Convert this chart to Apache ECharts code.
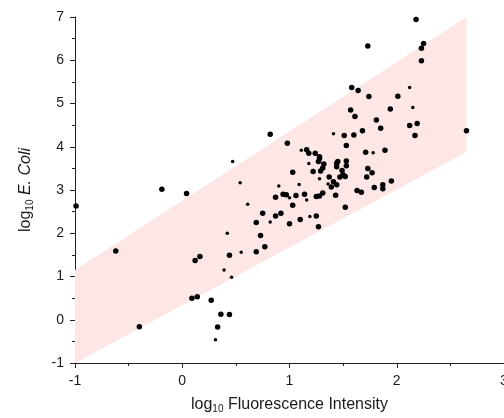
<!DOCTYPE html>
<html>
<head>
<meta charset="utf-8">
<script src="https://cdn.jsdelivr.net/npm/echarts@6/dist/echarts.min.js"></script>
<style>html,body{margin:0;padding:0;background:#fff;}#c{width:504px;height:418px;}</style>
</head>
<body>
<div id="c"></div>
<script>
// Axis ticks
var xTicks = [-1, 0, 1, 2, 3];
var yTicks = [-1, 0, 1, 2, 3, 4, 5, 6, 7];

// Prediction band (pink parallelogram): x positions with lower / upper bounds
var bandX = [-1, 2.65];
var bandLower = [-1.96, 3.88];
var bandUpper = [1.15, 7.0];

// Large markers [log10 fluorescence, log10 E. coli]
var bigPoints = [
  [-0.99, 2.63], [-0.62, 1.59], [-0.40, -0.16], [-0.19, 3.02], [0.04, 2.92],
  [0.82, 4.29], [0.98, 4.08], [0.44, 1.49], [0.165, 1.46], [0.12, 1.37],
  [0.69, 1.57], [0.77, 1.69], [0.73, 1.95], [0.69, 2.25], [0.75, 2.46],
  [0.87, 2.40], [0.92, 2.46], [1.00, 2.22], [1.10, 2.32], [1.25, 2.40],
  [1.27, 2.15], [0.87, 2.83], [0.94, 2.90], [0.97, 2.89], [1.06, 2.87],
  [1.03, 2.65], [1.14, 2.90], [1.25, 2.85], [1.31, 2.93], [1.28, 2.86],
  [1.03, 3.41], [1.22, 3.43], [1.29, 3.44], [1.31, 3.51], [1.37, 3.30],
  [1.16, 3.93], [1.18, 3.85], [1.24, 3.85], [1.28, 3.77], [1.27, 3.66],
  [1.28, 3.73], [1.44, 3.62], [0.09, 0.50], [0.14, 0.53], [0.27, 0.45],
  [0.36, 0.13], [0.44, 0.12], [0.33, -0.17], [1.57, 4.85], [1.61, 4.70],
  [1.94, 4.87], [2.12, 4.49], [2.19, 4.54], [2.17, 4.26], [1.81, 4.62],
  [1.85, 4.43], [1.68, 4.37], [1.51, 4.26], [1.60, 4.27], [1.53, 4.03],
  [1.71, 3.87], [1.89, 3.92], [1.45, 3.66], [1.53, 3.67], [1.44, 3.54],
  [1.53, 3.56], [1.49, 3.45], [1.73, 3.50], [1.77, 3.40], [1.50, 3.35],
  [1.47, 3.30], [1.52, 3.31], [1.72, 3.30], [1.95, 3.21], [1.41, 3.19],
  [1.44, 3.12], [1.39, 3.07], [1.43, 2.88], [1.52, 2.60], [1.63, 2.99],
  [1.67, 2.95], [1.79, 3.06], [1.87, 3.12], [1.87, 3.03], [2.18, 6.94],
  [1.73, 6.33], [2.25, 6.39], [2.23, 6.28], [2.23, 5.99], [1.58, 5.37],
  [1.64, 5.30], [1.74, 5.16], [2.01, 5.17], [2.65, 4.37], [1.32, 3.60]
];

// Small markers
var smallPoints = [
  [0.42, 2.00], [0.55, 1.56], [0.82, 2.26], [1.19, 2.39], [1.00, 2.82],
  [1.16, 2.77], [0.90, 3.09], [1.09, 3.13], [1.18, 3.61], [1.28, 3.26],
  [1.11, 3.92], [1.41, 4.30], [0.47, 3.66], [0.54, 3.17], [0.61, 2.67],
  [0.39, 1.15], [0.46, 0.98], [0.31, -0.46], [2.15, 4.91], [1.78, 3.86],
  [2.12, 5.37], [1.36, 3.14]
];

var chart = echarts.init(document.getElementById('c'), null, {renderer: 'canvas'});

var textColor = '#1a1a1a';
var font = 'Liberation Sans, Arial, sans-serif';

chart.setOption({
  animation: false,
  backgroundColor: '#ffffff',
  grid: {left: 75, right: 0, top: 17, bottom: 55, containLabel: false, outerBoundsMode: 'none'},
  xAxis: {
    type: 'value', min: xTicks[0], max: xTicks[xTicks.length - 1], interval: 1,
    name: '{a|log}{s|10}{a| Fluorescence Intensity}',
    nameLocation: 'middle', nameGap: 33,
    nameTextStyle: {rich: {
      a: {fontSize: 16, color: textColor, fontFamily: font},
      s: {fontSize: 10, color: textColor, fontFamily: font, verticalAlign: 'bottom', padding: [8, 0, 0, 0]}
    }},
    axisLine: {show: true, onZero: false, lineStyle: {color: '#222', width: 1}},
    axisTick: {show: true, inside: false, length: 5, lineStyle: {color: '#222'}},
    minorTick: {show: true, splitNumber: 2, length: 3, lineStyle: {color: '#222'}},
    axisLabel: {color: textColor, fontSize: 14, fontFamily: font, margin: 11},
    splitLine: {show: false}
  },
  yAxis: {
    type: 'value', min: yTicks[0], max: yTicks[yTicks.length - 1], interval: 1,
    name: '{a|log}{s|10}{a| }{i|E. Coli}',
    nameLocation: 'middle', nameGap: 40, nameRotate: 90,
    nameTextStyle: {rich: {
      a: {fontSize: 16, color: textColor, fontFamily: font},
      i: {fontSize: 16, color: textColor, fontFamily: font, fontStyle: 'italic'},
      s: {fontSize: 10, color: textColor, fontFamily: font, verticalAlign: 'bottom', padding: [8, 0, 0, 0]}
    }},
    axisLine: {show: true, onZero: false, lineStyle: {color: '#222', width: 1}},
    axisTick: {show: true, inside: false, length: 5, lineStyle: {color: '#222'}},
    minorTick: {show: true, splitNumber: 2, length: 3, lineStyle: {color: '#222'}},
    axisLabel: {color: textColor, fontSize: 14, fontFamily: font, margin: 11},
    splitLine: {show: false}
  },
  series: [
    {
      type: 'custom',
      clip: true,
      silent: true,
      z: 1,
      data: [0],
      renderItem: function (params, api) {
        var pts = [];
        for (var i = 0; i < bandX.length; i++) pts.push(api.coord([bandX[i], bandLower[i]]));
        for (var j = bandX.length - 1; j >= 0; j--) pts.push(api.coord([bandX[j], bandUpper[j]]));
        var cs = params.coordSys;
        pts = echarts.graphic.clipPointsByRect(pts, {x: cs.x, y: cs.y, width: cs.width, height: cs.height});
        return {type: 'polygon', shape: {points: pts}, style: {fill: '#fde6e6', stroke: null}};
      }
    },
    {
      type: 'scatter', z: 3, symbol: 'circle', symbolSize: 5.5,
      itemStyle: {color: '#000', opacity: 1},
      data: bigPoints
    },
    {
      type: 'scatter', z: 3, symbol: 'circle', symbolSize: 3.5,
      itemStyle: {color: '#000', opacity: 1},
      data: smallPoints
    }
  ]
});
</script>
</body>
</html>
